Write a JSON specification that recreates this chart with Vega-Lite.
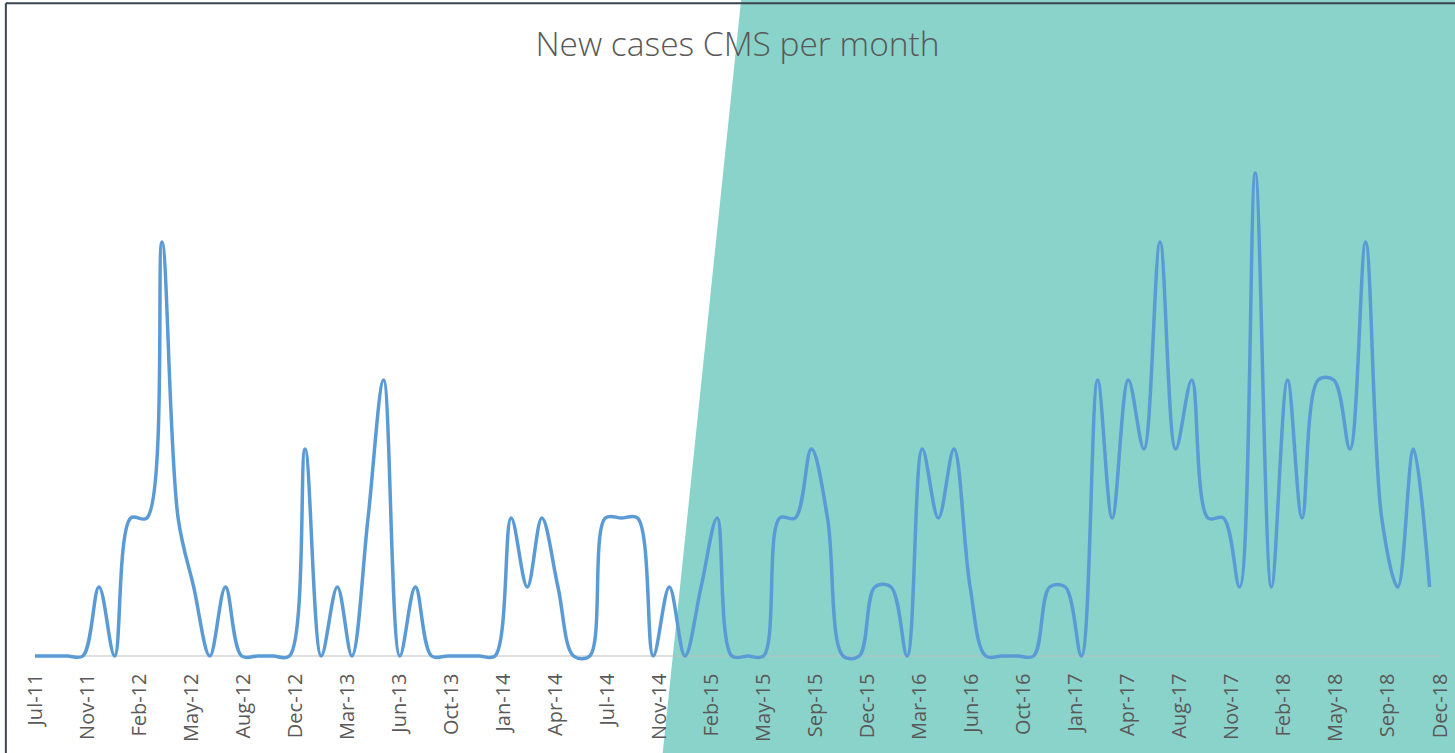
{
  "$schema": "https://vega.github.io/schema/vega-lite/v6.json",
  "width": 1405,
  "height": 552,
  "autosize": {"type": "none"},
  "padding": {"left": 35, "right": 15, "top": 104, "bottom": 97},
  "background": "#ffffff",
  "config": {"view": {"stroke": null}},
  "title": {
    "text": "New cases CMS per month",
    "font": "Open Sans",
    "fontSize": 33.5,
    "fontWeight": 300,
    "color": "#595959",
    "anchor": "middle",
    "baseline": "alphabetic",
    "offset": -90
  },
  "datasets": {
    "cases": [
      {"month": "2011-07-25", "cases": 0}, {"month": "2011-08-25", "cases": 0}, {"month": "2011-09-25", "cases": 0},
      {"month": "2011-10-25", "cases": 0}, {"month": "2011-11-25", "cases": 1}, {"month": "2011-12-25", "cases": 0},
      {"month": "2012-01-25", "cases": 2}, {"month": "2012-02-25", "cases": 2}, {"month": "2012-03-25", "cases": 6},
      {"month": "2012-04-25", "cases": 2}, {"month": "2012-05-25", "cases": 1}, {"month": "2012-06-25", "cases": 0},
      {"month": "2012-07-25", "cases": 1}, {"month": "2012-08-25", "cases": 0}, {"month": "2012-09-25", "cases": 0},
      {"month": "2012-10-25", "cases": 0}, {"month": "2012-11-25", "cases": 0}, {"month": "2012-12-25", "cases": 3},
      {"month": "2013-01-25", "cases": 0}, {"month": "2013-02-25", "cases": 1}, {"month": "2013-03-25", "cases": 0},
      {"month": "2013-04-25", "cases": 2}, {"month": "2013-05-25", "cases": 4}, {"month": "2013-06-25", "cases": 0},
      {"month": "2013-07-25", "cases": 1}, {"month": "2013-08-25", "cases": 0}, {"month": "2013-09-25", "cases": 0},
      {"month": "2013-10-25", "cases": 0}, {"month": "2013-11-25", "cases": 0}, {"month": "2013-12-25", "cases": 0},
      {"month": "2014-01-25", "cases": 2}, {"month": "2014-02-25", "cases": 1}, {"month": "2014-03-25", "cases": 2},
      {"month": "2014-04-25", "cases": 1}, {"month": "2014-05-25", "cases": 0}, {"month": "2014-06-25", "cases": 0},
      {"month": "2014-07-25", "cases": 2}, {"month": "2014-08-25", "cases": 2}, {"month": "2014-09-25", "cases": 2},
      {"month": "2014-10-25", "cases": 0}, {"month": "2014-11-25", "cases": 1}, {"month": "2014-12-25", "cases": 0},
      {"month": "2015-01-25", "cases": 1}, {"month": "2015-02-25", "cases": 2}, {"month": "2015-03-25", "cases": 0},
      {"month": "2015-04-25", "cases": 0}, {"month": "2015-05-25", "cases": 0}, {"month": "2015-06-25", "cases": 2},
      {"month": "2015-07-25", "cases": 2}, {"month": "2015-08-25", "cases": 3}, {"month": "2015-09-25", "cases": 2},
      {"month": "2015-10-25", "cases": 0}, {"month": "2015-11-25", "cases": 0}, {"month": "2015-12-25", "cases": 1},
      {"month": "2016-01-25", "cases": 1}, {"month": "2016-02-25", "cases": 0}, {"month": "2016-03-25", "cases": 3},
      {"month": "2016-04-25", "cases": 2}, {"month": "2016-05-25", "cases": 3}, {"month": "2016-06-25", "cases": 1},
      {"month": "2016-07-25", "cases": 0}, {"month": "2016-08-25", "cases": 0}, {"month": "2016-09-25", "cases": 0},
      {"month": "2016-10-25", "cases": 0}, {"month": "2016-11-25", "cases": 1}, {"month": "2016-12-25", "cases": 1},
      {"month": "2017-01-25", "cases": 0}, {"month": "2017-02-25", "cases": 4}, {"month": "2017-03-25", "cases": 2},
      {"month": "2017-04-25", "cases": 4}, {"month": "2017-05-25", "cases": 3}, {"month": "2017-06-25", "cases": 6},
      {"month": "2017-07-25", "cases": 3}, {"month": "2017-08-25", "cases": 4}, {"month": "2017-09-25", "cases": 2},
      {"month": "2017-10-25", "cases": 2}, {"month": "2017-11-25", "cases": 1}, {"month": "2017-12-25", "cases": 7},
      {"month": "2018-01-25", "cases": 1}, {"month": "2018-02-25", "cases": 4}, {"month": "2018-03-25", "cases": 2},
      {"month": "2018-04-25", "cases": 4}, {"month": "2018-05-25", "cases": 4}, {"month": "2018-06-25", "cases": 3},
      {"month": "2018-07-25", "cases": 6}, {"month": "2018-08-25", "cases": 2}, {"month": "2018-09-25", "cases": 1},
      {"month": "2018-10-25", "cases": 3}, {"month": "2018-11-25", "cases": 1}
    ],
    "shade": [
      {"month": "2014-11-11", "lo": -1.5, "hi": -1.5},
      {"month": "2015-04-12", "lo": -1.5, "hi": 9.51},
      {"month": "2019-02-01", "lo": -1.5, "hi": 9.51}
    ],
    "frame": [
      {"left": "2011-05-30", "right": "2019-02-01", "top": 9.46, "bottom": -1.6, "base": 0}
    ]
  },
  "layer": [
    {
      "data": {"name": "shade"},
      "mark": {"type": "area", "color": "#8AD3CB", "clip": false},
      "encoding": {
        "x": {
          "field": "month", "type": "temporal", "title": null,
          "scale": {"domain": [1311552000000, 1544832000000], "nice": false},
          "axis": {
            "values": [
              1311552000000, 1320192000000, 1328832000000, 1337472000000, 1346112000000, 1354752000000, 1363392000000,
              1372032000000, 1380672000000, 1389312000000, 1397952000000, 1406592000000, 1415232000000, 1423872000000,
              1432512000000, 1441152000000, 1449792000000, 1458432000000, 1467072000000, 1475712000000, 1484352000000,
              1492992000000, 1501632000000, 1510272000000, 1518912000000, 1527552000000, 1536192000000, 1544832000000
            ],
            "format": "%b-%y",
            "labelAngle": -90,
            "labelFont": "Open Sans",
            "labelFontSize": 20,
            "labelColor": "#595959",
            "labelPadding": 17,
            "labelOverlap": false,
            "ticks": false,
            "domain": false,
            "grid": false,
            "zindex": 1
          }
        },
        "y": {"field": "lo", "type": "quantitative", "title": null, "axis": null, "scale": {"domain": [0, 8], "nice": false, "zero": false}},
        "y2": {"field": "hi"}
      }
    },
    {
      "data": {"name": "frame"},
      "mark": {"type": "rule", "color": "#BFBFBF", "strokeWidth": 1},
      "encoding": {"y": {"field": "base", "type": "quantitative", "title": null, "axis": null}}
    },
    {
      "data": {"name": "cases"},
      "mark": {"type": "line", "color": "#5B9BD5", "strokeWidth": 3.5, "interpolate": "catmull-rom", "clip": false},
      "encoding": {
        "x": {"field": "month", "type": "temporal", "title": null},
        "y": {"field": "cases", "type": "quantitative", "title": null, "axis": null}
      }
    },
    {
      "data": {"name": "frame"},
      "mark": {"type": "rule", "color": "#3B4552", "strokeWidth": 2, "clip": false},
      "encoding": {
        "x": {"field": "left", "type": "temporal", "title": null},
        "y": {"field": "top", "type": "quantitative", "title": null, "axis": null},
        "y2": {"field": "bottom"}
      }
    },
    {
      "data": {"name": "frame"},
      "mark": {"type": "rule", "color": "#3B4552", "strokeWidth": 2, "clip": false},
      "encoding": {
        "y": {"field": "top", "type": "quantitative", "title": null, "axis": null},
        "x": {"field": "left", "type": "temporal", "title": null},
        "x2": {"field": "right"}
      }
    }
  ]
}
